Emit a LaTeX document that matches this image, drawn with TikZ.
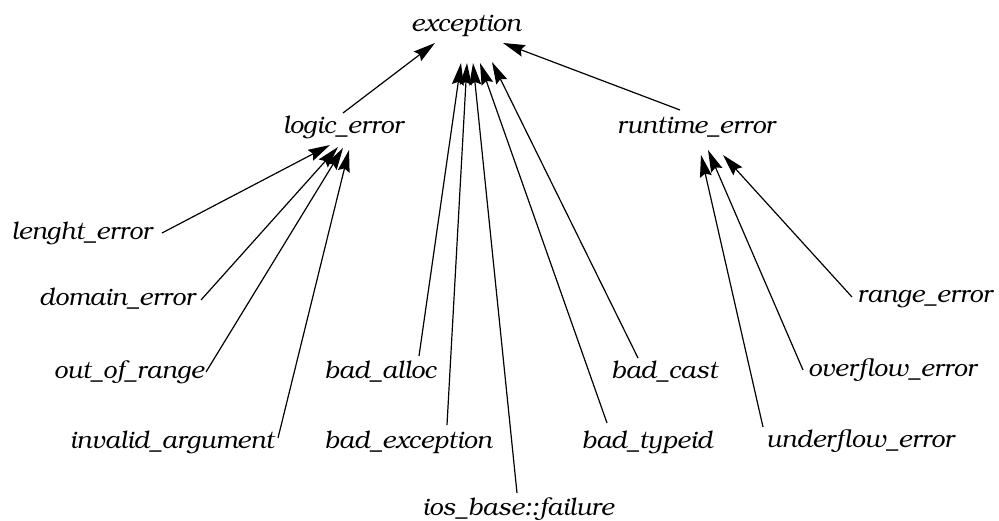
\documentclass[tikz,border=0pt]{standalone}
\usepackage[T1]{fontenc}
\usepackage{bookman}
\usetikzlibrary{arrows.meta}
\begin{document}
\begin{tikzpicture}[x=1pt,y=-1pt,
  lbl/.style={inner sep=0pt,font=\fontsize{24.5}{28}\selectfont\itshape},
  arr/.style={-{Stealth[length=22pt,width=12pt,inset=3pt]},line width=1.2pt}]
\useasboundingbox (0,0) rectangle (999,521);
% nodes
\node[lbl,anchor=base] (exc) at (466,32) {exception};
\node[lbl,anchor=base] (logic) at (343,134) {logic\_error};
\node[lbl,anchor=base] (rt) at (696,134) {runtime\_error};
\node[lbl,anchor=base east] (len) at (152,240) {lenght\_error};
\node[lbl,anchor=base east] (dom) at (195,306) {domain\_error};
\node[lbl,anchor=base east] (oor) at (204,378) {out\_of\_range};
\node[lbl,anchor=base east] (inv) at (274,448) {invalid\_argument};
\node[lbl,anchor=base] (alloc) at (380,378) {bad\_alloc};
\node[lbl,anchor=base] (bexc) at (408,448) {bad\_exception};
\node[lbl,anchor=base] (ios) at (518,515) {ios\_base::failure};
\node[lbl,anchor=base] (tid) at (647,448) {bad\_typeid};
\node[lbl,anchor=base] (cast) at (664,378) {bad\_cast};
\node[lbl,anchor=base west] (rng) at (857,303) {range\_error};
\node[lbl,anchor=base west] (ovf) at (808,377) {overflow\_error};
\node[lbl,anchor=base west] (unf) at (766,447) {underflow\_error};
% connectors to exception
\draw[arr] ([shift={(0,-21)}]logic.base) -- ([shift={(-31,11)}]exc.base);
\draw[arr] ([shift={(-16,-24)}]rt.base) -- ([shift={(37,11)}]exc.base);
\draw[arr] ([shift={(39,-22)}]alloc.base) -- ([shift={(-5,31)}]exc.base);
\draw[arr] ([shift={(39,-23)}]bexc.base) -- ([shift={(1,31)}]exc.base);
\draw[arr] ([shift={(-1,-22)}]ios.base) -- ([shift={(7,31)}]exc.base);
\draw[arr] ([shift={(-40,-25)}]tid.base) -- ([shift={(14,31)}]exc.base);
\draw[arr] ([shift={(-26,-20)}]cast.base) -- ([shift={(26,30)}]exc.base);
% connectors to logic_error
\draw[arr] ([shift={(10,-7)}]len.base east) -- ([shift={(-13,11)}]logic.base);
\draw[arr] ([shift={(6,-6)}]dom.base east) -- ([shift={(-5,13)}]logic.base);
\draw[arr] ([shift={(2,-6)}]oor.base east) -- ([shift={(0,14)}]logic.base);
\draw[arr] ([shift={(4,-10)}]inv.base east) -- ([shift={(6,16)}]logic.base);
% connectors to runtime_error
\draw[arr] ([shift={(-3,-20)}]unf.base west) -- ([shift={(5,21)}]rt.base);
\draw[arr] ([shift={(-5,-7)}]ovf.base west) -- ([shift={(12,16)}]rt.base);
\draw[arr] ([shift={(-5,-6)}]rng.base west) -- ([shift={(27,21)}]rt.base);
\end{tikzpicture}
\end{document}
